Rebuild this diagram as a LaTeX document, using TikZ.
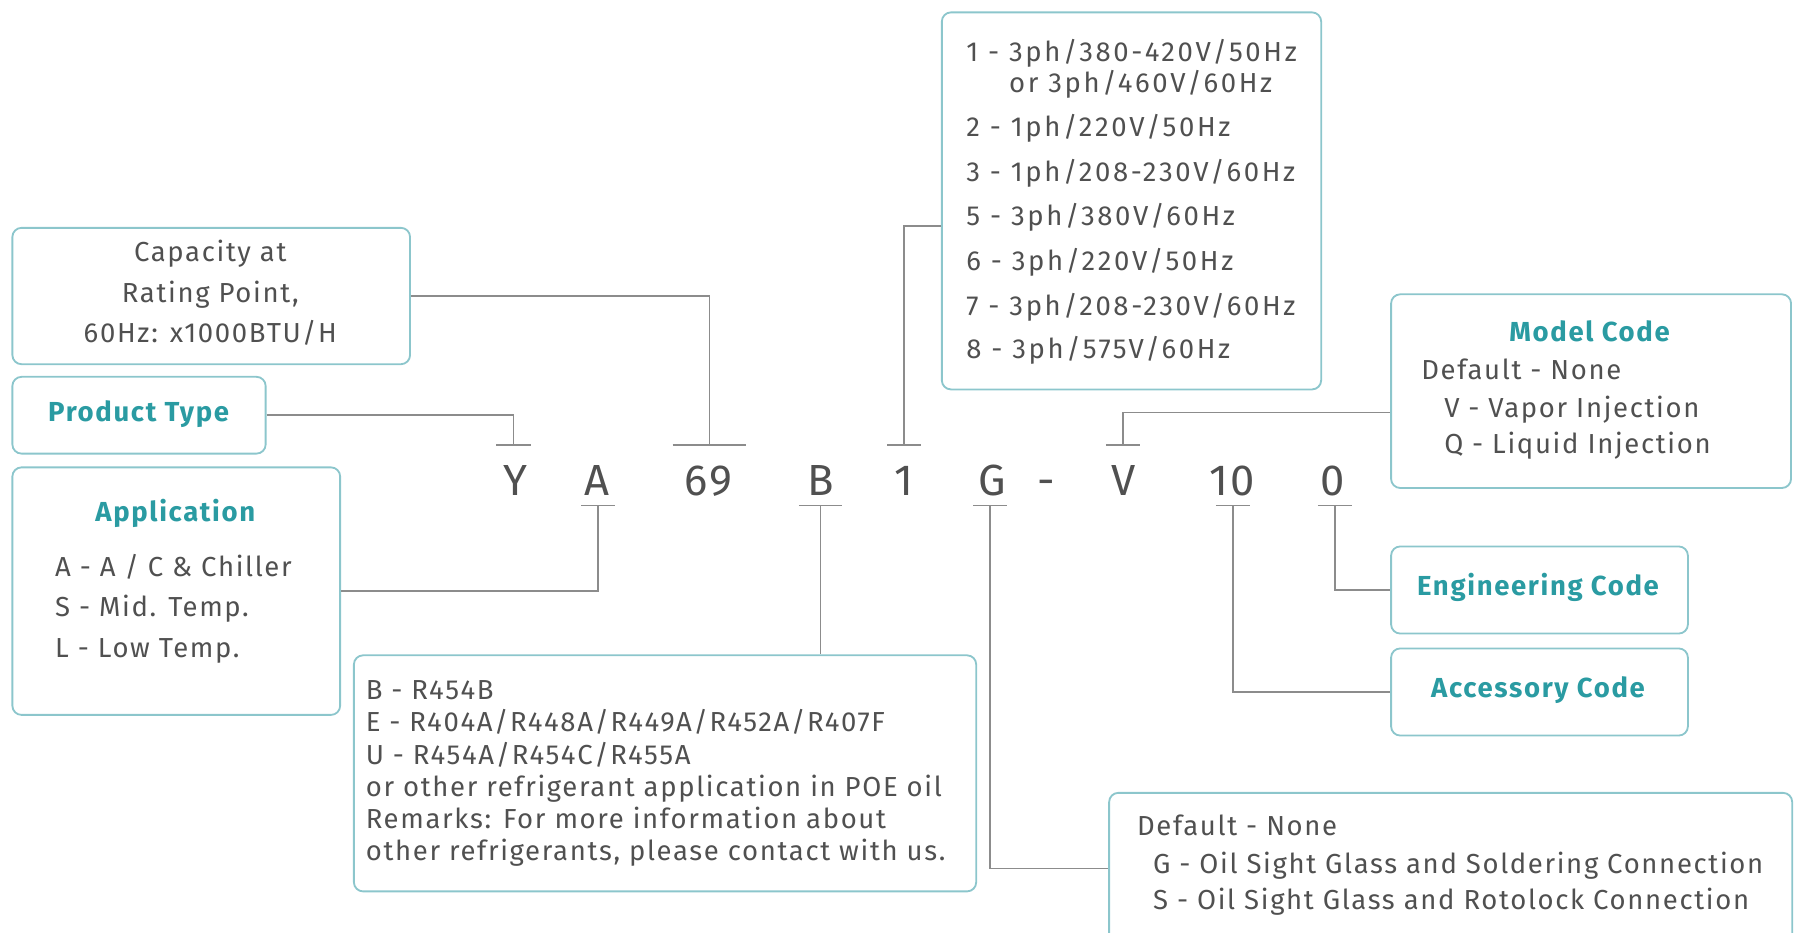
\documentclass[tikz,border=0pt]{standalone}
\usepackage{fontspec}
\setmainfont{Fira Sans}[LetterSpace=6]
\newfontfamily\voltfont{Fira Sans}[LetterSpace=9.5]
\definecolor{teal1}{HTML}{2A9BA2}
\definecolor{bord}{HTML}{8CC6CC}
\definecolor{txtg}{HTML}{505050}
\definecolor{lineg}{HTML}{8C8C8C}
\begin{document}
\begin{tikzpicture}[x=1pt,y=-1pt,
 box/.style={draw=bord, line width=1.6pt, rounded corners=8pt, anchor=north west, inner sep=0pt},
 txt/.style={text=txtg, font=\fontsize{24}{28}\selectfont, inner sep=0pt, anchor=base west},
 vtxt/.style={txt, font=\voltfont\fontsize{24}{28}\selectfont},
 ctxt/.style={txt, anchor=base},
 ttl/.style={text=teal1, font=\fontsize{24}{28}\selectfont\bfseries, inner sep=0pt, anchor=base},
 code/.style={text=txtg, font=\fontsize{38}{40}\selectfont, inner sep=0pt, anchor=base},
 conn/.style={draw=lineg, line width=1.5pt},
 bar/.style={draw=lineg, line width=1.5pt}]
\useasboundingbox (0,0) rectangle (1568,814);
% boxes
\node[box, minimum width=347pt, minimum height=119pt] (cap) at (10,198) {};
\node[box, minimum width=221pt, minimum height=67pt] (prod) at (10,328) {};
\node[box, minimum width=286pt, minimum height=216pt] (app) at (10,407) {};
\node[box, minimum width=331pt, minimum height=329pt] (volt) at (821,10) {};
\node[box, minimum width=349pt, minimum height=169pt] (mc) at (1213,256) {};
\node[box, minimum width=259pt, minimum height=76pt] (eng) at (1213,476) {};
\node[box, minimum width=259pt, minimum height=76pt] (acc) at (1213,565) {};
\node[box, minimum width=543pt, minimum height=206pt] (refr) at (308,571) {};
\node[box, minimum width=596pt, minimum height=132pt] (cbox) at (967,691) {};
% capacity
\node[ctxt] (cap1) at (183.5,228) {Capacity at};
\node[ctxt] (cap2) at (183.5,264) {Rating Point,};
\node[ctxt] (cap3) at (183.5,299) {60Hz: x1000BTU/H};
% product type
\node[ttl] (prodt) at (121,368) {Product Type};
% application
\node[ttl] (appt) at (153,455) {Application};
\node[txt] (app1) at (48,503) {A - A / C \& Chiller};
\node[txt] (app2) at (48,538) {S - Mid. Temp.};
\node[txt] (app3) at (48,574) {L - Low Temp.};
% voltage
\node[vtxt] (v1) at (843,54) {1 - 3ph/380-420V/50Hz};
\node[vtxt] (v1b) at (843,81) {\phantom{1 - }or 3ph/460V/60Hz};
\node[vtxt] (v2) at (843,119) {2 - 1ph/220V/50Hz};
\node[vtxt] (v3) at (843,158) {3 - 1ph/208-230V/60Hz};
\node[vtxt] (v5) at (843,197) {5 - 3ph/380V/60Hz};
\node[vtxt] (v6) at (843,236) {6 - 3ph/220V/50Hz};
\node[vtxt] (v7) at (843,275) {7 - 3ph/208-230V/60Hz};
\node[vtxt] (v8) at (843,313) {8 - 3ph/575V/60Hz};
% model code
\node[ttl] (mct) at (1387,298) {Model Code};
\node[txt] (mc1) at (1240,331) {Default - None};
\node[txt] (mc2) at (1260,364) {V - Vapor Injection};
\node[txt] (mc3) at (1260,396) {Q - Liquid Injection};
% eng / acc
\node[ttl] (engt) at (1342,520) {Engineering Code};
\node[ttl] (acct) at (1342,609) {Accessory Code};
% refrigerant
\node[txt] (r1) at (319,610) {B - R454B};
\node[txt] (r2) at (319,638) {E - R404A/R448A/R449A/R452A/R407F};
\node[txt] (r3) at (319,667) {U - R454A/R454C/R455A};
\node[txt] (r4) at (319,695) {or other refrigerant application in POE oil};
\node[txt] (r5) at (319,723) {Remarks: For more information about};
\node[txt] (r6) at (319,751) {other refrigerants, please contact with us.};
% connection
\node[txt] (c1) at (992,729) {Default - None};
\node[txt] (c2) at (1006,762) {G - Oil Sight Glass and Soldering Connection};
\node[txt] (c3) at (1006,794) {S - Oil Sight Glass and Rotolock Connection};
% code
\node[code] (kY) at (450,432) {Y};
\node[code] (kA) at (521,432) {A};
\node[code] (k69) at (618,432) {69};
\node[code] (kB) at (716,432) {B};
\node[code] (k1) at (789,432) {1};
\node[code] (kG) at (866,432) {G};
\node[code] (kd) at (913,432) {-};
\node[code] (kV) at (980,432) {V};
\node[code] (k10) at (1075,432) {10};
\node[code] (k0) at (1163,432) {0};
% bar coordinates
\coordinate (tY) at (448,388);
\coordinate (t69) at (619,388);
\coordinate (t1) at (789,388);
\coordinate (tV) at (980,388);
\coordinate (bA) at (522,441);
\coordinate (bB) at (716,441);
\coordinate (bG) at (864,441);
\coordinate (b10) at (1076,441);
\coordinate (b0) at (1165,441);
\coordinate (v1bend) at (789,197);
\coordinate (vbend) at (980,360);
% bars
\draw[bar] ([xshift=-15pt]tY) -- ([xshift=15pt]tY);
\draw[bar] ([xshift=-32pt]t69) -- ([xshift=32pt]t69);
\draw[bar] ([xshift=-15pt]t1) -- ([xshift=15pt]t1);
\draw[bar] ([xshift=-15pt]tV) -- ([xshift=15pt]tV);
\draw[bar] ([xshift=-15pt]bA) -- ([xshift=15pt]bA);
\draw[bar] ([xshift=-19pt]bB) -- ([xshift=19pt]bB);
\draw[bar] ([xshift=-15pt]bG) -- ([xshift=15pt]bG);
\draw[bar] ([xshift=-15pt]b10) -- ([xshift=15pt]b10);
\draw[bar] ([xshift=-15pt]b0) -- ([xshift=15pt]b0);
% connectors
\draw[conn] (cap.east) -| (t69);
\draw[conn] (prod.east) -| (tY);
\draw[conn] (app.east) -| (bA);
\draw[conn] (bB) -- (bB |- refr.north);
\draw[conn] (t1) -- (v1bend) -- (v1bend -| volt.west);
\draw[conn] (tV) -- (vbend) -- (vbend -| mc.west);
\draw[conn] (b0) |- (eng.west);
\draw[conn] (b10) |- (acc.west);
\draw[conn] (bG) |- (cbox.west);
\end{tikzpicture}
\end{document}
